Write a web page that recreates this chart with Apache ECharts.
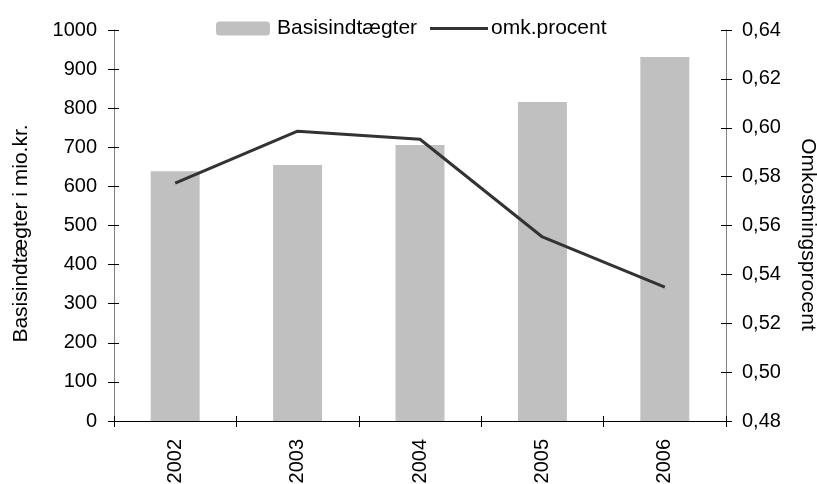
<!DOCTYPE html>
<html><head><meta charset="utf-8">
<script src="https://cdn.jsdelivr.net/npm/echarts@6/dist/echarts.min.js"></script>
<style>html,body{margin:0;padding:0;background:#fff}#c{width:817px;height:484px}</style>
</head><body><div id="c"></div>
<script>
const categories = ['2002','2003','2004','2005','2006'];
const basisValues = [639, 655, 706, 816, 931];
const omkValues = [0.5773, 0.5986, 0.5953, 0.5553, 0.5348];
const leftTicks = [0,100,200,300,400,500,600,700,800,900,1000];
const rightTicks = [0.48,0.50,0.52,0.54,0.56,0.58,0.60,0.62,0.64];

const font = 'Liberation Sans, Arial, sans-serif';
const fs = 20;
const fsT = 21;
const chart = echarts.init(document.getElementById('c'), null, {renderer:'canvas'});
const fmt = v => v.toFixed(2).replace('.', ',');
chart.setOption({
  animation:false,
  textStyle:{fontFamily:font},
  grid:{left:114, right:91, top:30, bottom:63, containLabel:false, outerBoundsMode:'none'},
  legend:[
    {data:['Basisindtægter'], left:211, top:13, itemWidth:54, itemHeight:14, itemGap:0,
     textStyle:{fontSize:fsT, color:'#000', fontFamily:font, padding:[0,0,0,2]}, selectedMode:false},
    {data:[{name:'omk.procent', icon:'rect'}], left:425, top:13, itemWidth:58, itemHeight:3, itemGap:0,
     textStyle:{fontSize:fsT, color:'#000', fontFamily:font, padding:[0,0,0,-2]}, selectedMode:false}
  ],
  xAxis:[
    {type:'category', data:categories, boundaryGap:true,
     axisLine:{lineStyle:{color:'#000', width:1}},
     axisTick:{show:true, length:6, lineStyle:{color:'#000'}},
     axisLabel:{rotate:90, fontSize:fs, color:'#000', margin:18, fontFamily:font}},
    {type:'category', data:categories, position:'bottom', boundaryGap:true,
     axisLine:{show:false}, axisTick:{show:true, inside:true, length:5, lineStyle:{color:'#000'}},
     axisLabel:{show:false}}
  ],
  yAxis:[
    {type:'value', min:0, max:1000, interval:100, position:'left',
     name:'Basisindtægter i mio.kr.', nameLocation:'middle', nameRotate:90, nameGap:82,
     nameTextStyle:{fontSize:fsT, color:'#000', fontFamily:font, padding:[0,16,0,0]},
     axisLine:{show:true, lineStyle:{color:'#808080'}},
     axisTick:{show:true, length:6, lineStyle:{color:'#000'}},
     axisLabel:{fontSize:fs, color:'#000', margin:17, fontFamily:font, formatter:v => String(v)},
     splitLine:{show:false}},
    {type:'value', min:0.48, max:0.64, interval:0.02, position:'right',
     name:'Omkostningsprocent', nameLocation:'middle', nameRotate:-90, nameGap:71,
     nameTextStyle:{fontSize:fsT, color:'#000', fontFamily:font, padding:[0,0,0,18]},
     axisLine:{show:true, lineStyle:{color:'#808080'}},
     axisTick:{show:true, length:6, lineStyle:{color:'#000'}},
     axisLabel:{fontSize:fs, color:'#000', margin:16, fontFamily:font, formatter:fmt},
     splitLine:{show:false}},
    {type:'value', min:0, max:1000, interval:100, position:'left',
     axisLine:{show:false}, axisTick:{show:true, inside:true, length:5, lineStyle:{color:'#000'}},
     axisLabel:{show:false}, splitLine:{show:false}},
    {type:'value', min:0.48, max:0.64, interval:0.02, position:'right',
     axisLine:{show:false}, axisTick:{show:true, inside:true, length:5, lineStyle:{color:'#000'}},
     axisLabel:{show:false}, splitLine:{show:false}}
  ],
  series:[
    {name:'Basisindtægter', type:'bar', data:basisValues, xAxisIndex:0, yAxisIndex:0,
     barWidth:'40%', itemStyle:{color:'#c0c0c0'}},
    {name:'omk.procent', type:'line', data:omkValues, xAxisIndex:0, yAxisIndex:1,
     symbol:'none', lineStyle:{color:'#333333', width:3}, itemStyle:{color:'#333333'}}
  ]
});
</script></body></html>
